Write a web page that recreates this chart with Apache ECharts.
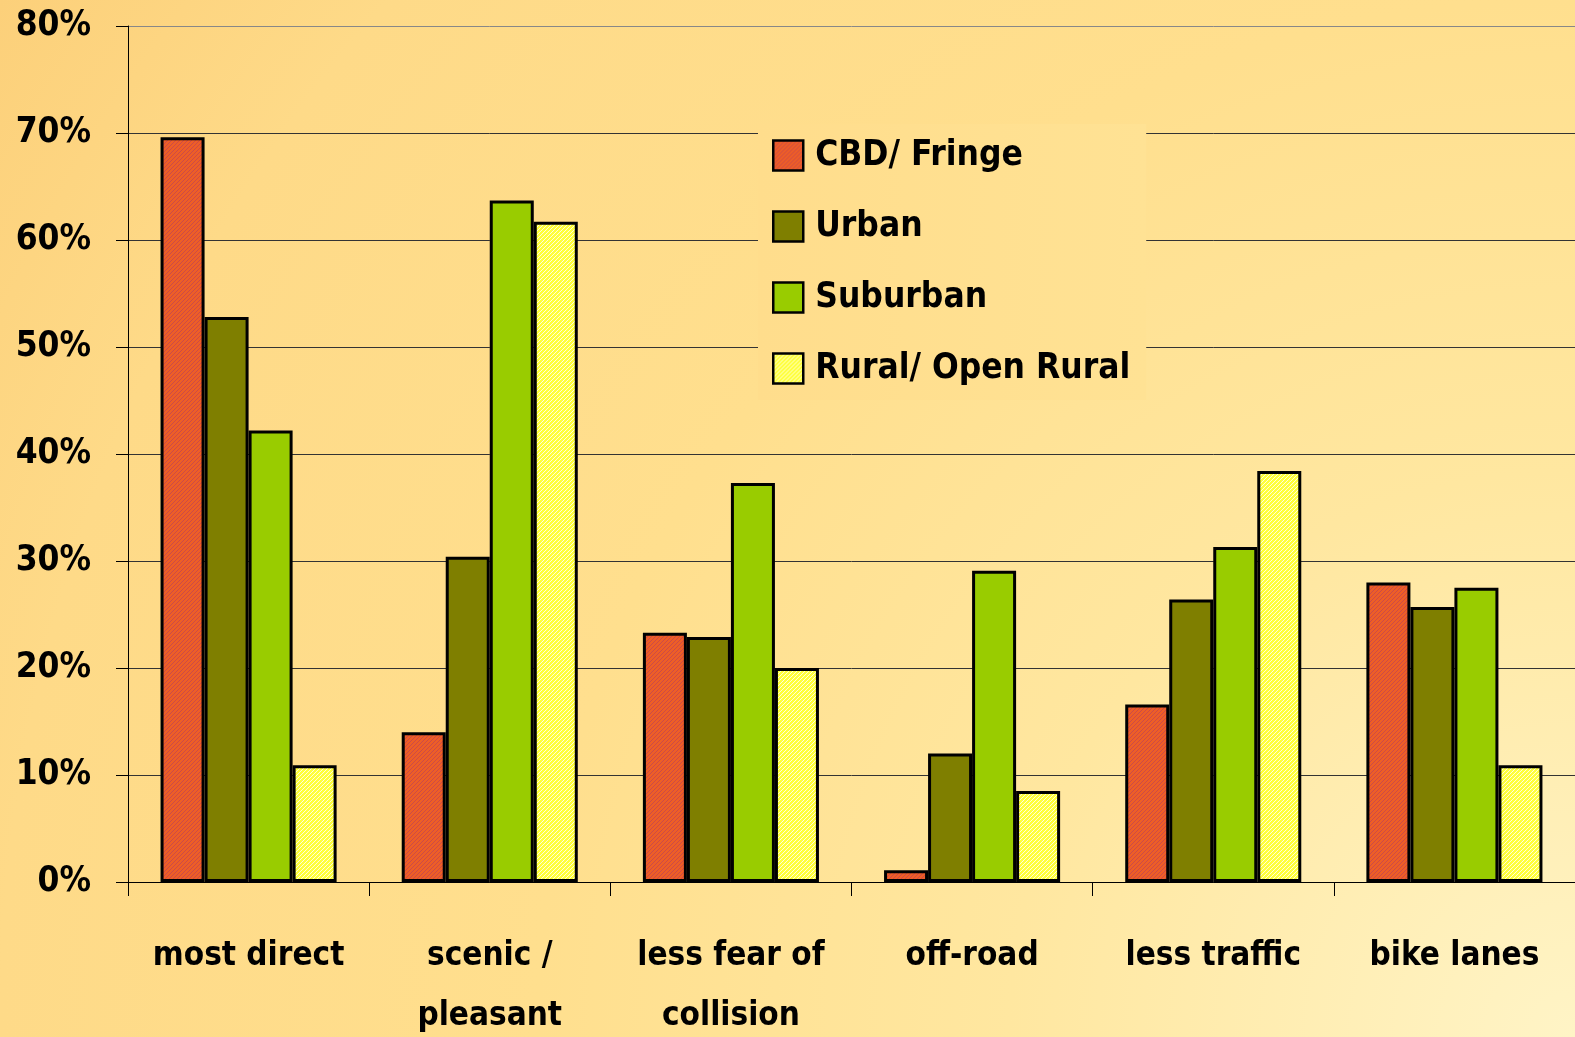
<!DOCTYPE html>
<html>
<head>
<meta charset="utf-8">
<script src="https://cdn.jsdelivr.net/npm/echarts@6/dist/echarts.min.js"></script>
<style>
html, body { margin: 0; padding: 0; }
#chart { width: 1575px; height: 1037px; }
</style>
</head>
<body>
<div id="chart"></div>
<script>
var categories = ['most direct', 'scenic /\npleasant', 'less fear of\ncollision', 'off-road', 'less traffic', 'bike lanes'];
var seriesNames = ['CBD/ Fringe', 'Urban', 'Suburban', 'Rural/ Open Rural'];
var cbdFringe = [69.6, 14.0, 23.3, 1.1, 16.6, 28.0];
var urban = [52.8, 30.4, 22.9, 12.0, 26.4, 25.7];
var suburban = [42.2, 63.7, 37.3, 29.1, 31.3, 27.5];
var rural = [10.9, 61.7, 20.0, 8.5, 38.4, 10.9];
var yTicks = [0, 10, 20, 30, 40, 50, 60, 70, 80];

var FONT = '"DejaVu Sans Condensed", "Liberation Sans", sans-serif';

// small hatched tiles for the red and yellow bars
function hatch(base, line) {
	var c = document.createElement('canvas');
	c.width = 4; c.height = 4;
	var ctx = c.getContext('2d');
	ctx.fillStyle = base;
	ctx.fillRect(0, 0, 4, 4);
	ctx.strokeStyle = line;
	ctx.lineWidth = 1;
	ctx.beginPath();
	ctx.moveTo(-1, 5); ctx.lineTo(5, -1);
	ctx.moveTo(-1, 1); ctx.lineTo(1, -1);
	ctx.moveTo(3, 5); ctx.lineTo(5, 3);
	ctx.stroke();
	return { image: c, repeat: 'repeat' };
}

var colors = [
	hatch('#EE5E26', '#CC4A48'),
	'#7F7F00',
	'#99CC00',
	hatch('#FFFF3A', '#FFFFD8')
];

var myChart = echarts.init(document.getElementById('chart'));
var dataSets = [cbdFringe, urban, suburban, rural];
var series = [];
for (var i = 0; i < seriesNames.length; i++) {
	series.push({
		name: seriesNames[i],
		type: 'bar',
		data: dataSets[i],
		barGap: '0%',
		barCategoryGap: '27%',
		itemStyle: {
			color: colors[i],
			borderColor: '#000',
			borderWidth: 3
		},
		animation: false
	});
}

var option = {
	backgroundColor: {
		type: 'radial', x: 1575, y: 1037, r: 1886, global: true,
		colorStops: [
			{ offset: 0, color: '#FFF4C6' },
			{ offset: 0.3, color: '#FFE7A0' },
			{ offset: 0.55, color: '#FFDF8E' },
			{ offset: 0.835, color: '#FEDA88' },
			{ offset: 1, color: '#FCD07A' }
		]
	},
	animation: false,
	grid: {
		left: 128,
		right: 0,
		top: 26,
		bottom: 155,
		outerBoundsMode: 'none',
		containLabel: false
	},
	legend: {
		orient: 'vertical',
		left: 758,
		top: 124,
		padding: [14, 16, 14, 14],
		backgroundColor: {
			type: 'linear', x: 0, y: 0, x2: 1, y2: 0,
			colorStops: [
				{ offset: 0, color: '#FFDD8C' },
				{ offset: 1, color: '#FFE294' }
			]
		},
		icon: 'rect',
		itemWidth: 30,
		itemHeight: 30,
		itemGap: 36,
		itemStyle: { borderWidth: 2.5 },
		data: seriesNames,
		textStyle: {
			fontFamily: FONT,
			fontWeight: 'bold',
			fontSize: 35,
			lineHeight: 30,
			color: '#000',
			padding: [0, 0, 0, 7]
		}
	},
	xAxis: {
		type: 'category',
		data: categories,
		axisLine: { lineStyle: { color: '#000', width: 1 } },
		axisTick: { show: true, interval: 0, length: 14, lineStyle: { color: '#000' } },
		axisLabel: {
			interval: 0,
			margin: 44,
			fontFamily: FONT,
			fontWeight: 'bold',
			fontSize: 33,
			lineHeight: 60,
			color: '#000',
			verticalAlign: 'top'
		}
	},
	yAxis: {
		type: 'value',
		min: 0,
		max: 80,
		interval: 10,
		axisLine: { show: true, lineStyle: { color: '#000', width: 1 } },
		axisTick: { show: true, length: 12, lineStyle: { color: '#000' } },
		splitLine: {
			lineStyle: {
				color: ['#333', '#333', '#333', '#333', '#333', '#333', '#333', '#333', '#888'],
				width: 1
			}
		},
		axisLabel: {
			margin: 37,
			fontFamily: FONT,
			fontWeight: 'bold',
			fontSize: 35,
			color: '#000',
			formatter: function (v) {
				return yTicks.indexOf(v) >= 0 ? v + '%' : '';
			}
		}
	},
	series: series
};
myChart.setOption(option);
</script>
</body>
</html>
